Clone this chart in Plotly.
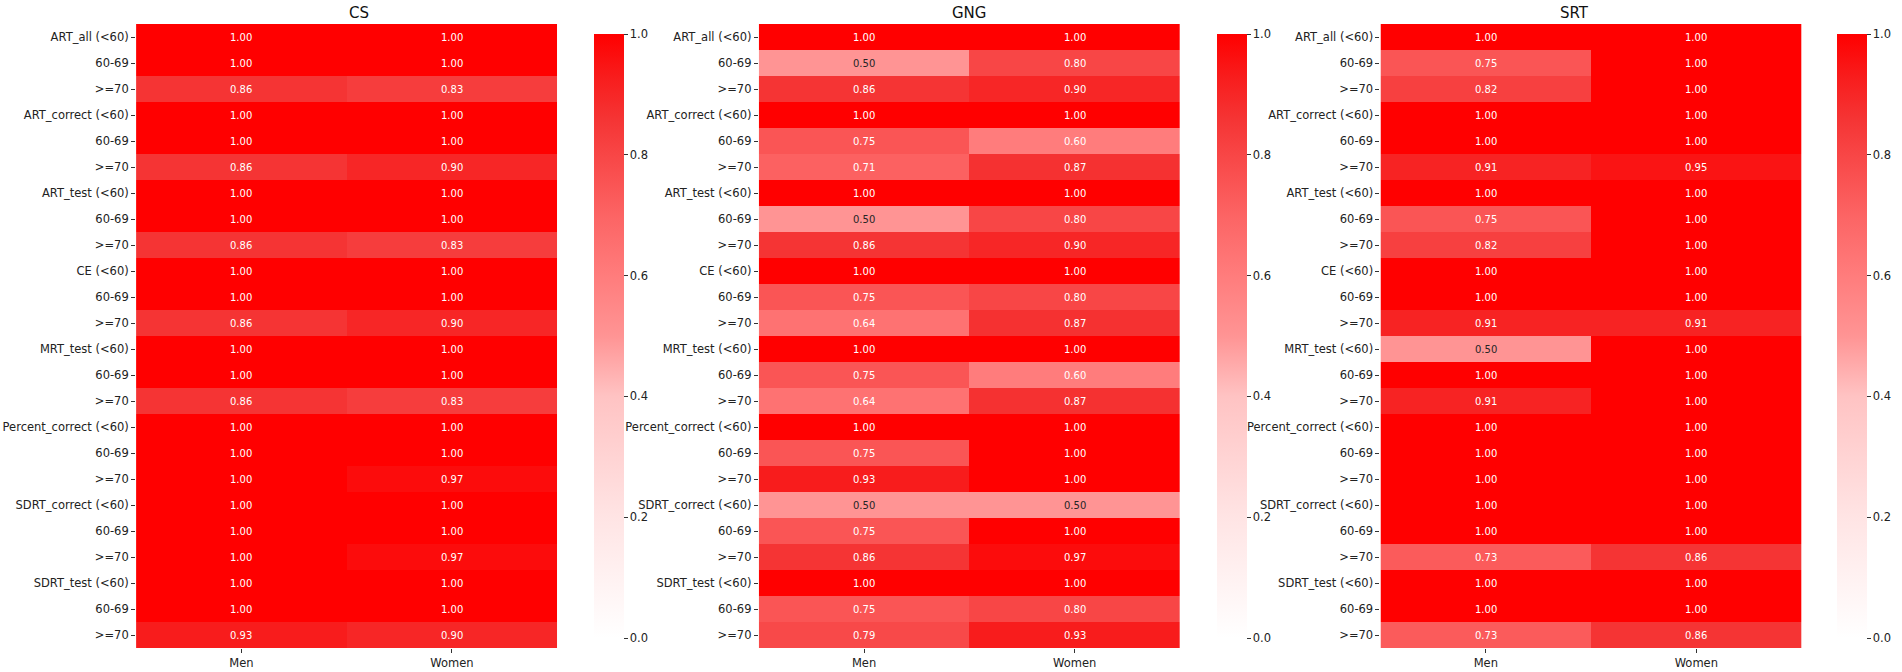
import plotly.graph_objects as go
from plotly.subplots import make_subplots

# row labels: three age bands per measure
measures = ["ART_all", "ART_correct", "ART_test", "CE", "MRT_test",
            "Percent_correct", "SDRT_correct", "SDRT_test"]
row_labels = []
for m in measures:
    row_labels += [m + " (<60)", "60-69", ">=70"]

sexes = ["Men", "Women"]
panels = ["CS", "GNG", "SRT"]

cs_men = [1.00, 1.00, 0.86, 1.00, 1.00, 0.86, 1.00, 1.00, 0.86, 1.00, 1.00, 0.86,
          1.00, 1.00, 0.86, 1.00, 1.00, 1.00, 1.00, 1.00, 1.00, 1.00, 1.00, 0.93]
cs_women = [1.00, 1.00, 0.83, 1.00, 1.00, 0.90, 1.00, 1.00, 0.83, 1.00, 1.00, 0.90,
            1.00, 1.00, 0.83, 1.00, 1.00, 0.97, 1.00, 1.00, 0.97, 1.00, 1.00, 0.90]

gng_men = [1.00, 0.50, 0.86, 1.00, 0.75, 0.71, 1.00, 0.50, 0.86, 1.00, 0.75, 0.64,
           1.00, 0.75, 0.64, 1.00, 0.75, 0.93, 0.50, 0.75, 0.86, 1.00, 0.75, 0.79]
gng_women = [1.00, 0.80, 0.90, 1.00, 0.60, 0.87, 1.00, 0.80, 0.90, 1.00, 0.80, 0.87,
             1.00, 0.60, 0.87, 1.00, 1.00, 1.00, 0.50, 1.00, 0.97, 1.00, 0.80, 0.93]

srt_men = [1.00, 0.75, 0.82, 1.00, 1.00, 0.91, 1.00, 0.75, 0.82, 1.00, 1.00, 0.91,
           0.50, 1.00, 0.91, 1.00, 1.00, 1.00, 1.00, 1.00, 0.73, 1.00, 1.00, 0.73]
srt_women = [1.00, 1.00, 1.00, 1.00, 1.00, 0.95, 1.00, 1.00, 1.00, 1.00, 1.00, 0.91,
             1.00, 1.00, 1.00, 1.00, 1.00, 1.00, 1.00, 1.00, 0.86, 1.00, 1.00, 0.86]

panel_data = {
    "CS": (cs_men, cs_women),
    "GNG": (gng_men, gng_women),
    "SRT": (srt_men, srt_women),
}

# white -> red, roughly like the seaborn light palette
reds = [
    [0.0, "rgb(255,255,255)"],
    [0.2, "rgb(255,228,228)"],
    [0.4, "rgb(255,195,195)"],
    [0.5, "rgb(255,148,148)"],
    [0.6, "rgb(255,124,124)"],
    [0.7, "rgb(252,100,100)"],
    [0.75, "rgb(250,85,85)"],
    [0.86, "rgb(245,52,52)"],
    [0.93, "rgb(248,28,28)"],
    [1.0, "rgb(255,0,0)"],
]

W, H = 1902, 672
heat_left = [137, 764, 1390]
heat_w = 424
cbar_left = [588, 1215, 1840]

fig = make_subplots(rows=1, cols=3)
rows_idx = list(range(len(row_labels)))
tick_font = dict(size=11.5, color="#222")

for i, name in enumerate(panels):
    men, women = panel_data[name]
    z = [[m, w] for m, w in zip(men, women)]
    fig.add_trace(
        go.Heatmap(
            z=z, x=[0, 1], y=rows_idx,
            zmin=0, zmax=1, colorscale=reds,
            hovertemplate="%{z:.2f}<extra></extra>",
            colorbar=dict(
                x=cbar_left[i] / W, xanchor="left", xref="paper",
                y=0.5, yanchor="middle", len=1.0, lenmode="fraction",
                thickness=30, outlinewidth=0,
                tickvals=[0, 0.2, 0.4, 0.6, 0.8, 1.0], tickformat=".1f",
                ticks="outside", ticklen=4, tickcolor="#333",
                tickfont=tick_font,
            ),
        ),
        row=1, col=i + 1,
    )
    ax = "" if i == 0 else str(i + 1)
    fig.layout["xaxis" + ax].update(
        domain=[heat_left[i] / W, (heat_left[i] + heat_w) / W],
        tickvals=[0, 1], ticktext=sexes, ticks="outside", ticklen=4,
        tickcolor="#333", showgrid=False, zeroline=False, showline=False,
        range=[-0.5, 1.5], tickfont=tick_font, automargin=False,
    )
    fig.layout["yaxis" + ax].update(
        tickvals=rows_idx, ticktext=row_labels, ticks="outside", ticklen=4,
        tickcolor="#333", showgrid=False, zeroline=False, showline=False,
        range=[len(row_labels) - 0.5, -0.5], tickfont=tick_font, automargin=False,
    )
    # cell values
    for r in rows_idx:
        for c, v in enumerate((men[r], women[r])):
            fig.add_annotation(
                x=c, y=r, xref="x" + ax, yref="y" + ax, text="%.2f" % v,
                showarrow=False,
                font=dict(size=10, color="#262626" if v < 0.55 else "white"),
            )
    fig.add_annotation(
        x=(heat_left[i] + heat_w / 2) / W, y=1, xref="paper", yref="paper",
        yanchor="bottom", yshift=0, text=name, showarrow=False,
        font=dict(size=15, color="#111"),
    )

fig.update_layout(
    width=W, height=H,
    margin=dict(l=0, r=0, t=24, b=24),
    paper_bgcolor="white", plot_bgcolor="white",
    font=dict(family="DejaVu Sans"),
)

fig.write_html("out.html", config={"displayModeBar": False},
               post_script="document.body.style.margin='0';")
